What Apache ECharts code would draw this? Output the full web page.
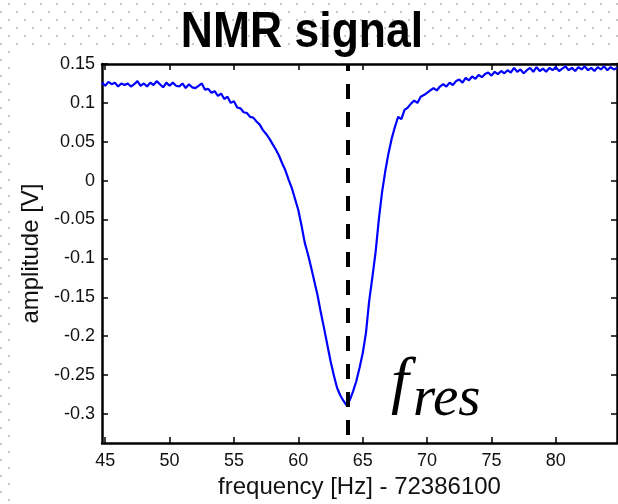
<!DOCTYPE html>
<html>
<head>
<meta charset="utf-8">
<script src="https://cdn.jsdelivr.net/npm/echarts@6/dist/echarts.min.js"></script>
<style>
  html, body { margin: 0; padding: 0; }
  body {
    width: 618px; height: 504px; position: relative; overflow: hidden;
    background-color: #fff;
    background-image:
      radial-gradient(circle, #c8c8c8 1px, transparent 1.3px),
      radial-gradient(circle, #c8c8c8 1px, transparent 1.3px);
    background-size: 16px 16px;
    background-position: 1px -4px, 9px 4px;
  }
  #paper { position: absolute; left: 12px; top: 50px; right: 0; bottom: 0; background: #fff; }
  #chart { position: absolute; left: 0; top: 0; width: 618px; height: 504px; }
</style>
</head>
<body>
<div id="paper"></div>
<div id="chart"></div>
<script>
// frequency offset from 72386100 Hz
const freqHz = [
  44.75,
  45, 45.25, 45.5, 45.75, 46, 46.25, 46.5, 46.75, 47, 47.25, 47.5, 47.75,
  48, 48.25, 48.5, 48.75, 49, 49.25, 49.5, 49.75, 50, 50.25, 50.5, 50.75,
  51, 51.25, 51.5, 51.75, 52, 52.25, 52.5, 52.75, 53, 53.25, 53.5, 53.75,
  54, 54.25, 54.5, 54.75, 55, 55.25, 55.5, 55.75, 56, 56.25, 56.5, 56.75,
  57, 57.25, 57.5, 57.75, 58, 58.25, 58.5, 58.75, 59, 59.25, 59.5, 59.75,
  60, 60.25, 60.5, 60.75, 61, 61.25, 61.5, 61.75, 62, 62.25, 62.5, 62.75,
  63, 63.25, 63.5, 63.75, 64, 64.25, 64.5, 64.75, 65, 65.25, 65.5, 65.75,
  66, 66.25, 66.5, 66.75, 67, 67.25, 67.5, 67.75, 68, 68.25, 68.5, 68.75,
  69, 69.25, 69.5, 69.75, 70, 70.25, 70.5, 70.75, 71, 71.25, 71.5, 71.75,
  72, 72.25, 72.5, 72.75, 73, 73.25, 73.5, 73.75, 74, 74.25, 74.5, 74.75,
  75, 75.25, 75.5, 75.75, 76, 76.25, 76.5, 76.75, 77, 77.25, 77.5, 77.75,
  78, 78.25, 78.5, 78.75, 79, 79.25, 79.5, 79.75, 80, 80.25, 80.5, 80.75,
  81, 81.25, 81.5, 81.75, 82, 82.25, 82.5, 82.75, 83, 83.25, 83.5, 83.75,
  84, 84.25, 84.5, 84.75
];

const amplitudeV = [
  0.126,
  0.122, 0.127, 0.124, 0.126, 0.121, 0.125, 0.123, 0.125, 0.121, 0.124, 0.128, 0.122,
  0.125, 0.121, 0.126, 0.123, 0.128, 0.124, 0.120, 0.126, 0.122, 0.126, 0.122, 0.121,
  0.125, 0.119, 0.124, 0.120, 0.119, 0.122, 0.125, 0.117, 0.118, 0.113, 0.115, 0.109,
  0.112, 0.105, 0.108, 0.100, 0.102, 0.094, 0.093, 0.088, 0.087, 0.082, 0.081, 0.076,
  0.072, 0.065, 0.060, 0.054, 0.047, 0.040, 0.032, 0.022, 0.013, 0.001, -0.010, -0.024,
  -0.038, -0.058, -0.080, -0.095, -0.112, -0.130, -0.148, -0.170, -0.190, -0.211, -0.232, -0.250,
  -0.266, -0.276, -0.283, -0.289, -0.282, -0.271, -0.258, -0.241, -0.222, -0.196, -0.155, -0.124,
  -0.092, -0.050, -0.015, 0.012, 0.035, 0.054, 0.069, 0.082, 0.079, 0.091, 0.094, 0.099,
  0.103, 0.100, 0.108, 0.110, 0.113, 0.116, 0.119, 0.116, 0.121, 0.124, 0.121, 0.126,
  0.123, 0.128, 0.130, 0.126, 0.132, 0.129, 0.134, 0.131, 0.136, 0.133, 0.137, 0.139,
  0.135, 0.140, 0.137, 0.141, 0.138, 0.142, 0.139, 0.145, 0.140, 0.143, 0.138, 0.142,
  0.145, 0.140, 0.146, 0.141, 0.144, 0.140, 0.145, 0.142, 0.146, 0.141, 0.144, 0.147,
  0.142, 0.145, 0.141, 0.146, 0.143, 0.147, 0.142, 0.145, 0.141, 0.146, 0.143, 0.147,
  0.142, 0.146, 0.143, 0.145
];

const xTicks = [45, 50, 55, 60, 65, 70, 75, 80];
const yTicks = [-0.3, -0.25, -0.2, -0.15, -0.1, -0.05, 0, 0.05, 0.1, 0.15];
const xRange = [44.75, 84.75];
const yRange = [-0.3375, 0.15];
const fRes = 63.85;

const chart = echarts.init(document.getElementById('chart'), null, { renderer: 'canvas' });

const font = '"Liberation Sans", Arial, sans-serif';
const serif = '"Liberation Serif", "DejaVu Serif", serif';
const axisLine = { show: true, onZero: false, lineStyle: { color: '#000', width: 2.5 } };
const tickStyle = { color: '#000', width: 1.5 };

chart.setOption({
  animation: false,
  backgroundColor: 'transparent',
  grid: { left: 102, right: 1, top: 64, bottom: 50, containLabel: false },
  xAxis: [
    {
      type: 'value',
      min: xRange[0],
      max: xRange[1],
      position: 'bottom',
      axisLine,
      axisTick: { inside: true, length: 6, customValues: xTicks, lineStyle: tickStyle },
      axisLabel: { customValues: xTicks, margin: 9, fontSize: 18, color: '#111', fontFamily: font },
      splitLine: { show: false },
      name: 'frequency [Hz] - 72386100',
      nameLocation: 'middle',
      nameGap: 23,
      nameTextStyle: { fontSize: 24, color: '#111', fontFamily: font }
    },
    {
      type: 'value',
      min: xRange[0],
      max: xRange[1],
      position: 'top',
      axisLine,
      axisTick: { inside: true, length: 6, customValues: xTicks, lineStyle: tickStyle },
      axisLabel: { show: false },
      splitLine: { show: false }
    }
  ],
  yAxis: [
    {
      type: 'value',
      min: yRange[0],
      max: yRange[1],
      position: 'left',
      axisLine,
      axisTick: { inside: true, length: 6, customValues: yTicks, lineStyle: tickStyle },
      axisLabel: { customValues: yTicks, margin: 7, fontSize: 18, color: '#111', fontFamily: font },
      splitLine: { show: false },
      name: 'amplitude [V]',
      nameLocation: 'middle',
      nameGap: 50,
      nameTextStyle: { fontSize: 24, color: '#111', fontFamily: font }
    },
    {
      type: 'value',
      min: yRange[0],
      max: yRange[1],
      position: 'right',
      axisLine,
      axisTick: { inside: true, length: 6, customValues: yTicks, lineStyle: tickStyle },
      axisLabel: { show: false },
      splitLine: { show: false }
    }
  ],
  series: [
    {
      type: 'line',
      data: freqHz.map((f, i) => [f, amplitudeV[i]]),
      showSymbol: false,
      symbol: 'none',
      lineStyle: { color: '#0000ff', width: 2.2 },
      z: 3,
      markLine: {
        silent: true,
        symbol: ['none', 'none'],
        label: { show: false },
        lineStyle: { color: '#000', width: 4, type: [15, 13], dashOffset: 20 },
        data: [{ xAxis: fRes }]
      }
    }
  ],
  graphic: [
    {
      type: 'text',
      x: 302,
      y: 33,
      scaleX: 0.89,
      style: {
        text: 'NMR signal',
        font: 'bold 50px ' + font,
        fill: '#000',
        align: 'center',
        verticalAlign: 'middle'
      }
    },
    {
      type: 'text',
      x: 391,
      y: 384,
      style: {
        text: 'f',
        font: 'italic 64px ' + serif,
        fill: '#000',
        align: 'left',
        verticalAlign: 'middle'
      }
    },
    {
      type: 'text',
      x: 413,
      y: 400,
      style: {
        text: 'res',
        font: 'italic 57px ' + serif,
        fill: '#000',
        align: 'left',
        verticalAlign: 'middle'
      }
    }
  ]
});
</script>
</body>
</html>
